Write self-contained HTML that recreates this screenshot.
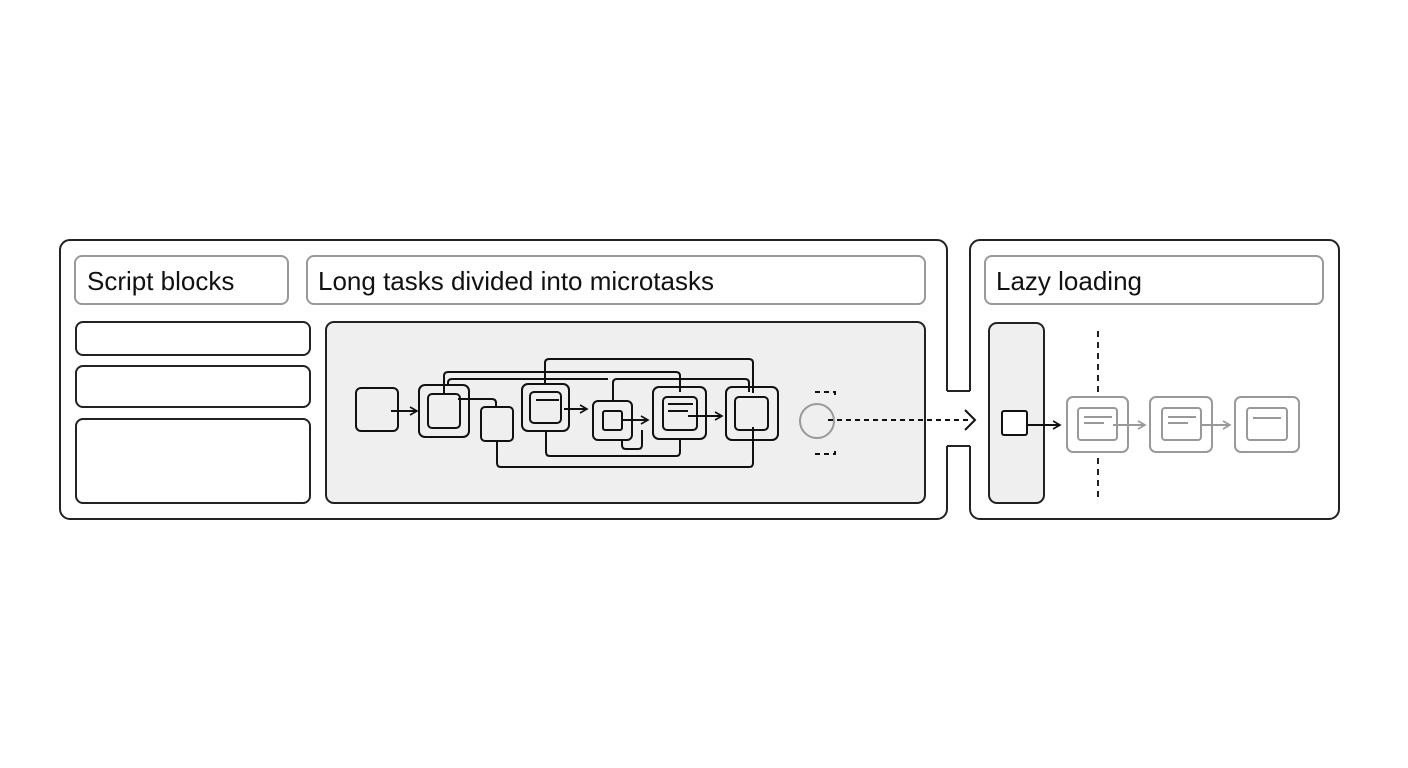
<!DOCTYPE html>
<html><head><meta charset="utf-8"><style>
html,body{margin:0;padding:0;background:#fff;}
svg{display:block;}
text{font-family:"Liberation Sans",sans-serif;font-size:26px;fill:#111;}
</style></head><body>
<svg width="1408" height="768" viewBox="0 0 1408 768" xmlns="http://www.w3.org/2000/svg">
<defs>
<marker id="ah" markerWidth="10" markerHeight="10" refX="8" refY="5" orient="auto" markerUnits="userSpaceOnUse"><path d="M1,1 L8,5 L1,9" fill="none" stroke="#111" stroke-width="1.6"/></marker>
<marker id="ahg" markerWidth="10" markerHeight="10" refX="8" refY="5" orient="auto" markerUnits="userSpaceOnUse"><path d="M1,1 L8,5 L1,9" fill="none" stroke="#999" stroke-width="1.6"/></marker>
</defs>
<rect width="1408" height="768" fill="#fff"/>
<rect x="60" y="240" width="887" height="279" rx="10" fill="#fff" stroke="#222" stroke-width="2"/>
<rect x="970" y="240" width="369" height="279" rx="10" fill="#fff" stroke="#222" stroke-width="2"/>
<rect x="944" y="391" width="29" height="55" fill="#fff"/>
<path d="M947,391 H970 M947,446 H970" stroke="#222" stroke-width="2"/>
<rect x="75" y="256" width="213" height="48" rx="7" fill="#fff" stroke="#999" stroke-width="2"/>
<text x="87" y="290">Script blocks</text>
<rect x="307" y="256" width="618" height="48" rx="7" fill="#fff" stroke="#999" stroke-width="2"/>
<text x="318" y="290">Long tasks divided into microtasks</text>
<rect x="985" y="256" width="338" height="48" rx="7" fill="#fff" stroke="#999" stroke-width="2"/>
<text x="996" y="290">Lazy loading</text>
<g fill="#fff" stroke="#222" stroke-width="2">
<rect x="76" y="322" width="234" height="33" rx="7"/>
<rect x="76" y="366" width="234" height="41" rx="7"/>
<rect x="76" y="419" width="234" height="84" rx="7"/>
</g>
<rect x="326" y="322" width="599" height="181" rx="8" fill="#efefef" stroke="#222" stroke-width="2"/>
<rect x="989" y="323" width="55" height="180" rx="8" fill="#efefef" stroke="#222" stroke-width="2"/>
<g fill="none" stroke="#111" stroke-width="2" stroke-linejoin="round">
<path d="M545,384 V363 Q545,359 549,359 H749 Q753,359 753,363 V393"/>
<path d="M444,393 V376 Q444,372 448,372 H676 Q680,372 680,376 V392"/>
<path d="M448,384 V383 Q448,379 452,379 H608"/>
<path d="M613,401 V383 Q613,379 617,379 H745 Q749,379 749,383 V392"/>
<path d="M458,399 H492 Q496,399 496,403 V407"/>
<path d="M497,441 V463 Q497,467 501,467 H749 Q753,467 753,463 V427"/>
<path d="M546,431 V452 Q546,456 550,456 H676 Q680,456 680,452 V439"/>
<path d="M622,440 V445 Q622,449 626,449 H638 Q642,449 642,445 V430"/>
</g>
<g fill="none" stroke="#111" stroke-width="2">
<rect x="356" y="388" width="42" height="43" rx="5" fill="#efefef"/>
<rect x="419" y="385" width="50" height="52" rx="6"/>
<rect x="428" y="394" width="32" height="34" rx="4"/>
<rect x="481" y="407" width="32" height="34" rx="4" fill="#efefef"/>
<rect x="522" y="384" width="47" height="47" rx="6"/>
<rect x="530" y="392" width="31" height="31" rx="4"/>
<path d="M536,400 H559"/>
<rect x="593" y="401" width="39" height="39" rx="5"/>
<rect x="603" y="411" width="19" height="19" rx="2"/>
<rect x="653" y="387" width="53" height="52" rx="6"/>
<rect x="663" y="397" width="34" height="33" rx="4"/>
<path d="M668,404 H693 M668,411 H688"/>
<rect x="726" y="387" width="52" height="53" rx="6"/>
<rect x="735" y="397" width="33" height="33" rx="4"/>
</g>
<g stroke="#111" stroke-width="2" fill="none">
<path d="M391,411 H417" marker-end="url(#ah)"/>
<path d="M564,409 H587" marker-end="url(#ah)"/>
<path d="M622,420 H648" marker-end="url(#ah)"/>
<path d="M688,416 H722" marker-end="url(#ah)"/>
</g>
<circle cx="817" cy="421" r="17" fill="none" stroke="#999" stroke-width="2"/>
<g stroke="#111" stroke-width="2" fill="none" stroke-dasharray="5,4">
<path d="M815,392 H835 V396"/>
<path d="M815,454 H835 V450"/>
<path d="M828,420 H970"/>
</g>
<path d="M965,410 L975,420 L965,430" fill="none" stroke="#111" stroke-width="2"/>
<rect x="1002" y="411" width="25" height="24" rx="2" fill="#fff" stroke="#111" stroke-width="2"/>
<path d="M1027,425 H1060" stroke="#111" stroke-width="2" marker-end="url(#ah)"/>
<path d="M1098,331 V393 M1098,458 V501" stroke="#222" stroke-width="2" stroke-dasharray="6,5"/>
<g fill="#fff" stroke="#999" stroke-width="2">
<rect x="1067" y="397" width="61" height="55" rx="6"/>
<rect x="1078" y="408" width="39" height="32" rx="3"/>
<rect x="1150" y="397" width="62" height="55" rx="6"/>
<rect x="1162" y="408" width="39" height="32" rx="3"/>
<rect x="1235" y="397" width="64" height="55" rx="6"/>
<rect x="1247" y="408" width="40" height="32" rx="3"/>
</g>
<g stroke="#999" stroke-width="2" fill="none">
<path d="M1084,417 H1112 M1084,423 H1104"/>
<path d="M1168,417 H1196 M1168,423 H1188"/>
<path d="M1253,418 H1281"/>
<path d="M1113,425 H1145" marker-end="url(#ahg)"/>
<path d="M1200,425 H1230" marker-end="url(#ahg)"/>
</g>
</svg>
</body></html>
